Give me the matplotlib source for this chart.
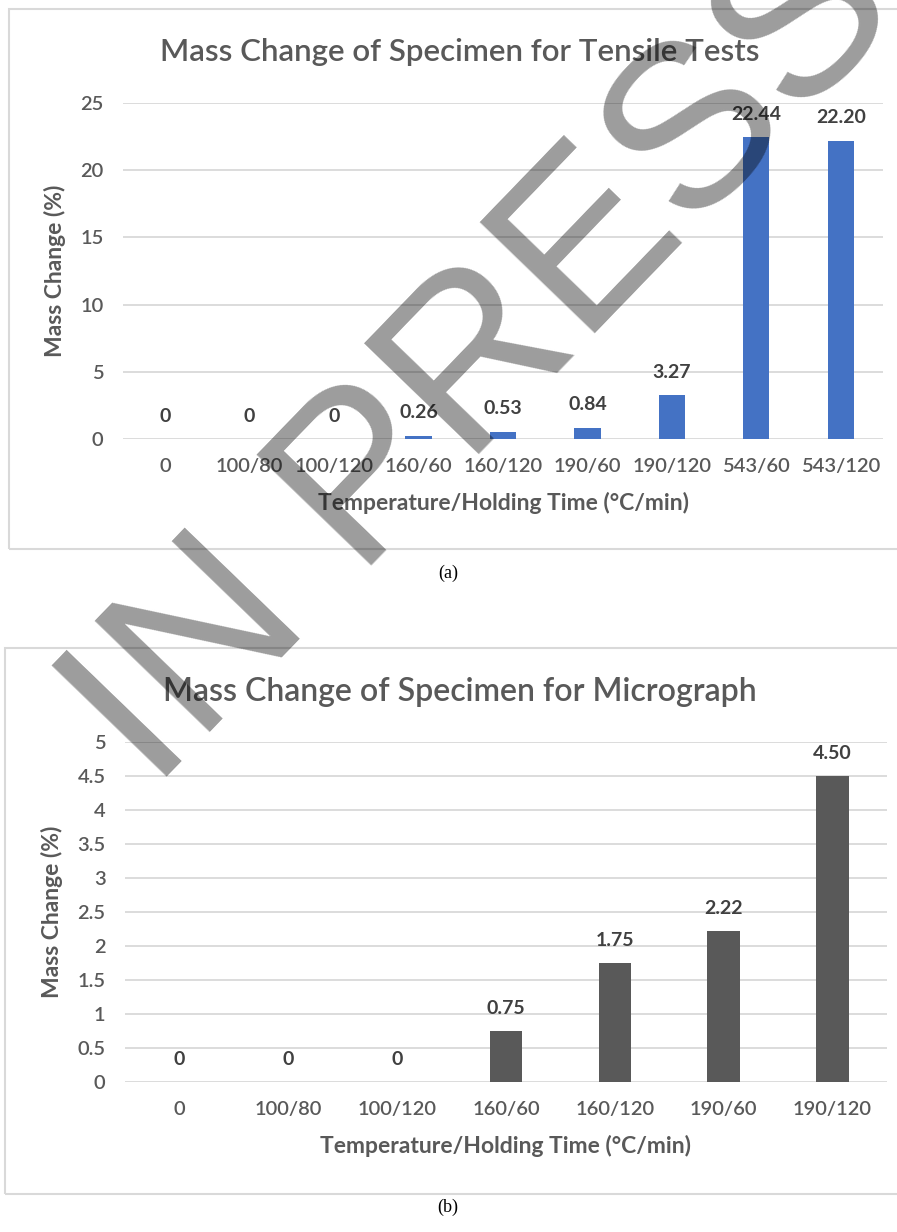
import matplotlib
matplotlib.use("Agg")
import matplotlib.pyplot as plt
from matplotlib.patches import Rectangle

W, H = 897, 1232

# tensile test specimens
cats_a = ["0", "100/80", "100/120", "160/60", "160/120", "190/60", "190/120", "543/60", "543/120"]
mass_a = [0, 0, 0, 0.26, 0.53, 0.84, 3.27, 22.44, 22.20]

# micrograph specimens
cats_b = ["0", "100/80", "100/120", "160/60", "160/120", "190/60", "190/120"]
mass_b = [0, 0, 0, 0.75, 1.75, 2.22, 4.50]

yticks_a = [0, 5, 10, 15, 20, 25]
yticks_b = [0, 0.5, 1, 1.5, 2, 2.5, 3, 3.5, 4, 4.5, 5]

plt.rcParams['font.family'] = ['Lato', 'DejaVu Sans']

TXT = '#595959'
GRID = '#d9d9d9'


def px(x, y):
    # pixel coords (top-left origin) -> figure fraction
    return x / W, 1 - y / H


def box(x0, y0, x1, y1):
    l, b = px(x0, y1)
    return [l, b, (x1 - x0) / W, (y1 - y0) / H]


def lab(v):
    return "0" if v == 0 else "%.2f" % v


def bar_panel(ax, cats, vals, yticks, color, width):
    xs = range(len(cats))
    ax.bar(xs, vals, width=width, color=color, zorder=2)
    for x, v in zip(xs, vals):
        ax.annotate(lab(v), (x, v), xytext=(0, 16.5), textcoords='offset points',
                    ha='center', va='center', fontsize=14, fontweight='bold', color='#404040')
    ax.set_xlim(-0.5, len(cats) - 0.5)
    ax.set_ylim(yticks[0], yticks[-1])
    ax.set_yticks(yticks)
    ax.set_yticklabels(["%g" % t for t in yticks])
    ax.set_xticks(list(xs))
    ax.set_xticklabels(cats)
    ax.yaxis.grid(True, color=GRID, lw=1.3)
    ax.set_axisbelow(True)
    for s in ax.spines.values():
        s.set_visible(False)
    ax.tick_params(length=0, labelsize=14.5, labelcolor=TXT)
    for t in ax.get_xticklabels() + ax.get_yticklabels():
        t.set_fontweight('semibold')
    ax.tick_params(axis='y', pad=14)
    ax.tick_params(axis='x', pad=14)
    ax.set_ylabel("Mass Change (%)", fontsize=16.5, color=TXT, fontweight='bold', labelpad=10)
    ax.set_xlabel("Temperature/Holding Time (°C/min)", fontsize=16.5, color=TXT,
                  fontweight='bold', labelpad=12)


fig = plt.figure(figsize=(W / 100, H / 100), dpi=100)

# panel frames
for x0, y0, x1, y1 in [(9, 9, 905, 549), (5, 648, 905, 1194)]:
    l, b = px(x0, y1)
    fig.patches.append(Rectangle((l, b), (x1 - x0) / W, (y1 - y0) / H, transform=fig.transFigure,
                                 fill=False, edgecolor=GRID, lw=1.5))

ax_a = fig.add_axes(box(123, 103, 883, 439))
bar_panel(ax_a, cats_a, mass_a, yticks_a, '#4472C4', 0.31)

ax_b = fig.add_axes(box(125, 742, 887, 1082))
bar_panel(ax_b, cats_b, mass_b, yticks_b, '#595959', 0.30)

fig.text(*px(460, 52), "Mass Change of Specimen for Tensile Tests", ha='center', va='center',
         fontsize=22.5, fontweight='semibold', color=TXT)
fig.text(*px(460, 692), "Mass Change of Specimen for Micrograph", ha='center', va='center',
         fontsize=23, fontweight='semibold', color=TXT)

fig.text(*px(448, 573), "(a)", ha='center', va='center', fontsize=13, family='Liberation Serif')
fig.text(*px(448, 1207), "(b)", ha='center', va='center', fontsize=13, family='Liberation Serif')

# watermark, anchored at the start of its baseline
fig.text(*px(153, 792), "IN PRESS", ha='left', va='baseline', rotation=46, rotation_mode='anchor',
         fontsize=167, family='Liberation Sans', color='black', alpha=0.39, zorder=10)

fig.savefig("out.png", dpi=100)
